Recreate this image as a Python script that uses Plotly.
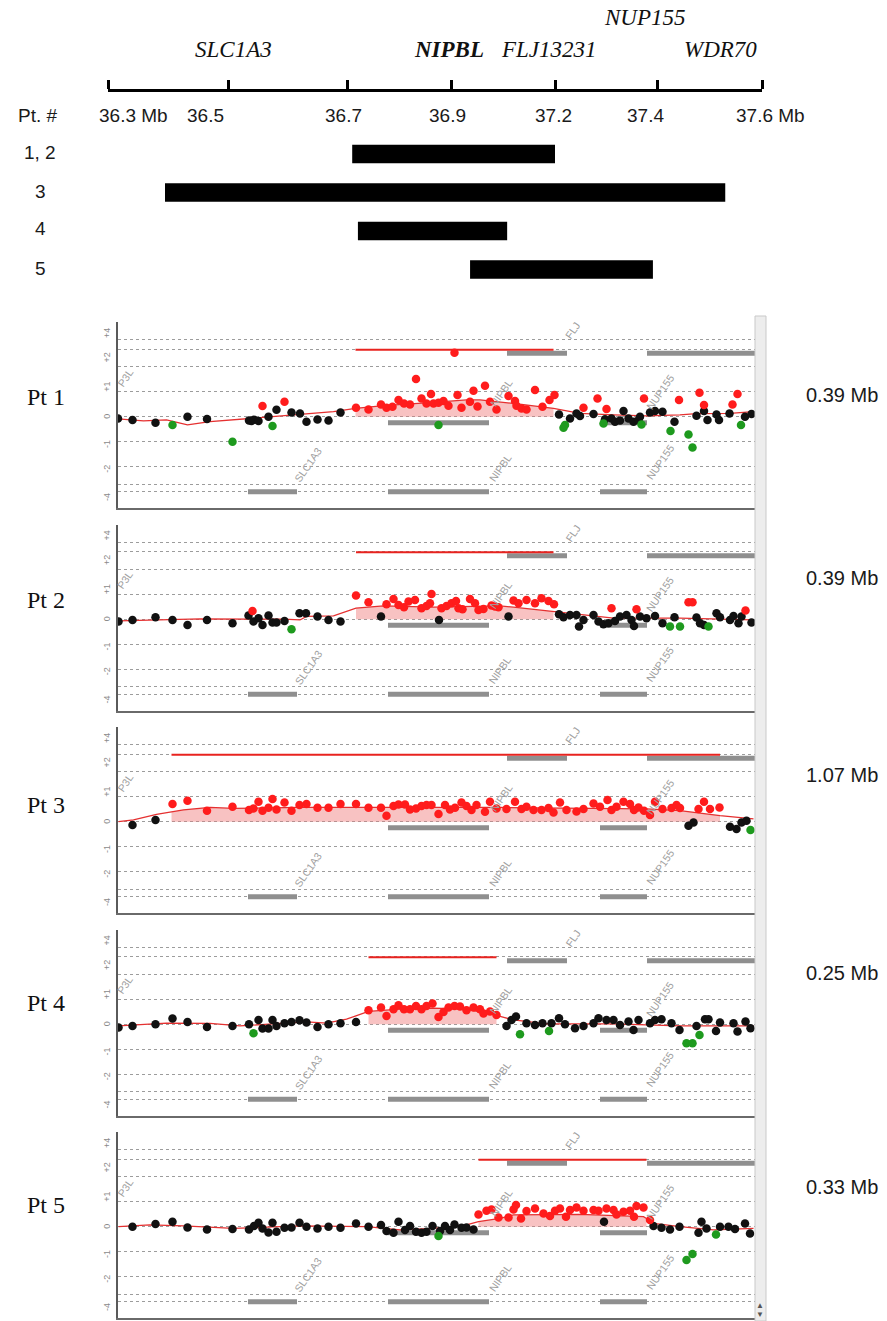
import numpy as np
import plotly.graph_objects as go

W, H = 887, 1321

# ---------------- schematic (top) data ----------------
RULER_MB = [36.3, 36.5, 36.7, 36.9, 37.2, 37.4, 37.6]
RULER_LABELS = ["36.3 Mb", "36.5", "36.7", "36.9", "37.2", "37.4", "37.6 Mb"]
DEL_ROWS = ["1, 2", "3", "4", "5"]
DEL_START_MB = [36.710, 36.395, 36.721, 36.955]
DEL_END_MB = [37.200, 37.530, 37.062, 37.392]
TOP_GENES = ["SLC1A3", "NIPBL", "FLJ13231", "NUP155", "WDR70"]

# ---------------- array CGH panels ----------------
PANEL_NAMES = ["Pt 1", "Pt 2", "Pt 3", "Pt 4", "Pt 5"]
PANEL_SIZES = ["0.39 Mb", "0.39 Mb", "1.07 Mb", "0.25 Mb", "0.33 Mb"]
Y_TICK_TEXT = ["+4", "+2", "+1", "0", "-1", "-2", "-4"]

# genes shown in the panel gene tracks (kb)
GENE_NAMES = ["SLC1A3", "NIPBL", "NUP155", "NIPBL", "NUP155", "FLJ13231", "WDR70"]
GENE_START_KB = [36560, 36840, 37264, 36840, 37264, 37078, 37358]
GENE_END_KB = [36658, 37042, 37358, 37042, 37358, 37198, 37574]

# Pt 1
P1_BLACK_KB = [36300, 36329, 36375, 36439, 36478, 36562, 36567, 36572, 36581, 36601, 36617, 36647, 36664, 36677,
               36699, 36721, 36745, 37182, 37204, 37217, 37224, 37251, 37274, 37287, 37294, 37304, 37311, 37321,
               37331, 37341, 37344, 37364, 37374, 37389, 37413, 37457, 37472, 37479, 37497, 37502, 37523, 37554, 37567]
P1_BLACK_Y = [-0.07, -0.13, -0.24, 0.0, -0.09, -0.15, -0.17, -0.12, -0.17, 0.0, 0.28, 0.17, 0.13, -0.2,
              -0.11, -0.15, 0.17, 0.09, -0.07, 0.13, 0.03, 0.11, -0.1, -0.07, -0.2, -0.15, 0.23, -0.07,
              -0.2, -0.13, 0.0, 0.17, 0.23, 0.2, -0.2, 0.04, 0.23, -0.13, 0.09, -0.13, 0.13, 0.0, 0.11]
P1_RED_KB = [36589, 36633, 36776, 36801, 36826, 36837, 36849, 36861, 36872, 36884, 36896, 36907, 36917, 36926,
             36931, 36941, 36951, 36961, 36973, 36979, 36987, 37004, 37011, 37019, 37034, 37044, 37057, 37081,
             37094, 37097, 37107, 37117, 37134, 37149, 37163, 37173, 37231, 37259, 37277, 37352, 37422, 37463,
             37472, 37529, 37539]
P1_RED_Y = [0.43, 0.6, 0.36, 0.29, 0.49, 0.36, 0.4, 0.67, 0.53, 0.49, 1.51, 0.73, 0.53, 0.91,
            0.53, 0.56, 0.63, 0.44, 2.56, 0.87, 0.36, 0.6, 1.04, 0.41, 1.24, 0.6, 0.29, 0.83,
            0.63, 0.44, 0.33, 0.29, 1.07, 0.4, 0.67, 0.87, 0.36, 0.73, 0.31, 0.73, 0.67, 0.96,
            0.47, 0.49, 0.91]
P1_GREEN_KB = [36409, 36529, 36609, 36941, 37191, 37194, 37271, 37347, 37405, 37441, 37449, 37546]
P1_GREEN_Y = [-0.33, -1.0, -0.37, -0.33, -0.44, -0.33, -0.27, -0.31, -0.57, -0.71, -1.23, -0.33]
P1_SMOOTH_KB = [36300, 36351, 36397, 36439, 36484, 36564, 36637, 36731, 36775, 36831, 36931, 36997, 37024, 37091,
                37171, 37224, 37291, 37357, 37424, 37457, 37524, 37571]
P1_SMOOTH_Y = [-0.09, -0.17, -0.13, -0.33, -0.2, -0.07, 0.07, 0.2, 0.33, 0.44, 0.57, 0.67, 0.67, 0.53,
               0.33, 0.13, 0.07, 0.03, 0.07, 0.12, 0.13, 0.2]
P1_ABERRATION_KB = [36775, 37171]

# Pt 2
P2_BLACK_KB = [36301, 36329, 36375, 36409, 36439, 36478, 36529, 36561, 36571, 36581, 36589, 36601, 36609, 36617,
               36633, 36663, 36676, 36699, 36721, 36745, 36826, 36942, 37081, 37182, 37191, 37204, 37217, 37222,
               37231, 37251, 37261, 37271, 37281, 37294, 37304, 37317, 37327, 37332, 37344, 37357, 37374, 37389,
               37413, 37457, 37464, 37472, 37497, 37504, 37524, 37531, 37541, 37547, 37567]
P2_BLACK_Y = [-0.09, -0.03, 0.08, -0.03, -0.23, -0.03, -0.16, 0.15, -0.09, 0.04, -0.23, 0.15, -0.13, -0.13,
              -0.07, 0.24, 0.24, 0.11, -0.03, -0.09, 0.11, -0.03, 0.11, 0.2, 0.08, 0.17, 0.17, -0.29,
              -0.03, 0.17, -0.09, -0.2, -0.16, -0.07, 0.11, 0.17, -0.03, -0.27, 0.11, 0.04, 0.13, -0.16,
              0.08, 0.07, -0.16, -0.23, 0.24, 0.08, -0.03, 0.13, -0.16, 0.11, -0.13]
P2_RED_KB = [36569, 36776, 36801, 36837, 36851, 36861, 36872, 36881, 36894, 36907, 36917, 36924, 36927, 36947,
             36957, 36967, 36976, 36981, 36989, 37004, 37014, 37021, 37031, 37047, 37054, 37061, 37091, 37101,
             37117, 37134, 37147, 37161, 37172, 37287, 37337, 37441, 37449, 37555]
P2_RED_Y = [0.33, 0.95, 0.68, 0.6, 0.81, 0.57, 0.48, 0.71, 0.77, 0.44, 0.53, 0.64, 1.01, 0.44,
            0.53, 0.64, 0.73, 0.44, 0.4, 0.81, 0.64, 0.37, 0.41, 0.55, 0.51, 0.48, 0.75, 0.64,
            0.77, 0.64, 0.84, 0.73, 0.6, 0.44, 0.4, 0.68, 0.68, 0.35]
P2_GREEN_KB = [36647, 37404, 37424, 37481]
P2_GREEN_Y = [-0.4, -0.29, -0.29, -0.29]
P2_SMOOTH_KB = [36301, 36464, 36631, 36664, 36677, 36731, 36776, 36831, 36931, 37064, 37091, 37171, 37224, 37291,
                37424, 37571]
P2_SMOOTH_Y = [-0.07, 0.01, 0.0, -0.03, 0.11, 0.13, 0.44, 0.53, 0.48, 0.53, 0.48, 0.31, 0.17, 0.04,
               0.04, -0.03]
P2_ABERRATION_KB = [36776, 37171]

# Pt 3
P3_BLACK_KB = [36329, 36375, 37441, 37451, 37524, 37537, 37547, 37557]
P3_BLACK_Y = [-0.13, 0.07, -0.16, -0.03, -0.2, -0.29, -0.03, 0.04]
P3_RED_KB = [36409, 36439, 36478, 36529, 36562, 36571, 36581, 36589, 36601, 36609, 36617, 36633, 36647, 36663,
             36677, 36699, 36721, 36745, 36776, 36801, 36826, 36837, 36851, 36861, 36874, 36884, 36896, 36907,
             36917, 36927, 36941, 36954, 36964, 36974, 36987, 36997, 37007, 37017, 37034, 37044, 37057, 37077,
             37094, 37107, 37117, 37131, 37147, 37161, 37171, 37184, 37197, 37217, 37231, 37251, 37264, 37279,
             37287, 37297, 37311, 37324, 37332, 37341, 37352, 37364, 37374, 37389, 37407, 37417, 37424, 37461,
             37472, 37484, 37503]
P3_RED_Y = [0.71, 0.84, 0.44, 0.6, 0.47, 0.53, 0.8, 0.44, 0.56, 0.91, 0.49, 0.77, 0.44, 0.67,
            0.71, 0.56, 0.56, 0.71, 0.71, 0.56, 0.56, 0.24, 0.63, 0.69, 0.69, 0.49, 0.53, 0.63,
            0.67, 0.67, 0.31, 0.67, 0.49, 0.56, 0.77, 0.63, 0.47, 0.67, 0.4, 0.8, 0.53, 0.51,
            0.8, 0.51, 0.6, 0.47, 0.47, 0.55, 0.37, 0.77, 0.47, 0.41, 0.51, 0.73, 0.6, 0.87,
            0.47, 0.6, 0.8, 0.71, 0.47, 0.57, 0.44, 0.27, 0.8, 0.51, 0.55, 0.67, 0.55, 0.51,
            0.8, 0.51, 0.57]
P3_GREEN_KB = [37565]
P3_GREEN_Y = [-0.33]
P3_SMOOTH_KB = [36301, 36331, 36377, 36407, 36431, 36484, 36531, 36664, 36797, 37064, 37357, 37424, 37504, 37571]
P3_SMOOTH_Y = [0.0, 0.07, 0.29, 0.4, 0.47, 0.57, 0.53, 0.57, 0.57, 0.57, 0.51, 0.44, 0.24, 0.11]
P3_ABERRATION_KB = [36407, 37504]

# Pt 4
P4_BLACK_KB = [36301, 36329, 36375, 36409, 36439, 36478, 36529, 36562, 36581, 36589, 36601, 36609, 36617, 36633,
               36647, 36663, 36677, 36699, 36721, 36745, 36776, 37077, 37087, 37096, 37117, 37134, 37149, 37167,
               37182, 37194, 37214, 37231, 37251, 37261, 37277, 37291, 37304, 37321, 37331, 37341, 37364, 37374,
               37387, 37407, 37423, 37457, 37474, 37481, 37496, 37504, 37531, 37539, 37555, 37565]
P4_BLACK_Y = [-0.13, -0.07, 0.0, 0.23, 0.09, -0.11, -0.07, 0.0, 0.17, -0.17, -0.17, 0.17, -0.07, 0.04,
              0.09, 0.16, 0.07, -0.11, 0.0, 0.04, 0.09, -0.07, 0.17, 0.31, 0.04, -0.03, 0.04, 0.04,
              0.24, 0.0, -0.16, -0.07, 0.04, 0.24, 0.17, 0.17, -0.03, 0.11, -0.23, 0.17, 0.04, 0.17,
              0.2, 0.04, -0.23, -0.07, 0.2, 0.2, -0.27, 0.07, 0.04, -0.29, 0.11, -0.16]
P4_RED_KB = [36801, 36826, 36837, 36851, 36861, 36872, 36884, 36896, 36907, 36917, 36929, 36941, 36951, 36961,
             36973, 36984, 36997, 37011, 37024, 37031, 37044, 37057]
P4_RED_Y = [0.56, 0.67, 0.33, 0.6, 0.76, 0.6, 0.6, 0.73, 0.6, 0.73, 0.83, 0.29, 0.49, 0.67,
            0.73, 0.71, 0.56, 0.67, 0.6, 0.43, 0.51, 0.37]
P4_GREEN_KB = [36571, 37104, 37162, 37437, 37449, 37463]
P4_GREEN_Y = [-0.36, -0.4, -0.27, -0.76, -0.76, -0.43]
P4_SMOOTH_KB = [36301, 36397, 36484, 36544, 36631, 36677, 36717, 36757, 36801, 36864, 36931, 36997, 37057, 37091,
                37157, 37291, 37424, 37571]
P4_SMOOTH_Y = [-0.07, 0.04, 0.03, -0.07, 0.04, 0.09, 0.04, 0.2, 0.51, 0.6, 0.64, 0.6, 0.35, 0.17,
               0.01, 0.01, -0.07, -0.07]
P4_ABERRATION_KB = [36801, 37057]

# Pt 5
P5_BLACK_KB = [36329, 36375, 36409, 36439, 36478, 36529, 36562, 36572, 36581, 36589, 36601, 36609, 36617, 36633,
               36647, 36663, 36677, 36699, 36721, 36745, 36776, 36801, 36826, 36837, 36851, 36861, 36874, 36884,
               36896, 36907, 36917, 36929, 36944, 36954, 36964, 36973, 36987, 36997, 37011, 37272, 37371, 37387,
               37404, 37423, 37461, 37467, 37477, 37504, 37521, 37534, 37554, 37564]
P5_BLACK_Y = [0.0, 0.11, 0.2, -0.03, -0.11, -0.09, -0.11, 0.03, 0.16, -0.07, -0.23, 0.16, -0.2, -0.04,
              -0.03, 0.16, 0.0, -0.07, 0.0, -0.04, 0.13, 0.0, 0.07, -0.17, -0.24, 0.2, -0.13, 0.03,
              -0.2, -0.24, -0.2, 0.03, -0.17, 0.03, -0.13, 0.09, -0.04, -0.03, -0.11, 0.2, 0.03, -0.04,
              -0.11, 0.0, -0.24, 0.2, -0.07, 0.0, 0.0, -0.09, 0.13, -0.27]
P5_RED_KB = [37021, 37037, 37047, 37061, 37081, 37091, 37096, 37106, 37117, 37134, 37151, 37164, 37174, 37184,
             37196, 37204, 37217, 37231, 37251, 37261, 37277, 37291, 37297, 37311, 37324, 37332, 37337, 37351, 37364]
P5_RED_Y = [0.49, 0.64, 0.69, 0.37, 0.37, 0.69, 0.87, 0.33, 0.63, 0.73, 0.53, 0.43, 0.64, 0.73,
            0.4, 0.67, 0.77, 0.64, 0.67, 0.64, 0.73, 0.67, 0.49, 0.6, 0.64, 0.4, 0.83, 0.77, 0.27]
P5_GREEN_KB = [36941, 37437, 37449, 37496]
P5_GREEN_Y = [-0.37, -1.33, -1.09, -0.31]
P5_SMOOTH_KB = [36301, 36364, 36431, 36531, 36664, 36797, 36864, 36931, 36997, 37021, 37064, 37091, 37224, 37351,
                37357, 37371, 37424, 37491, 37571]
P5_SMOOTH_Y = [0.0, 0.07, 0.03, -0.07, 0.03, 0.0, -0.13, -0.07, 0.07, 0.2, 0.33, 0.47, 0.49, 0.4,
               0.33, 0.13, 0.0, -0.13, -0.07]
P5_ABERRATION_KB = [37021, 37357]

PANELS = [
    (P1_BLACK_KB, P1_BLACK_Y, P1_RED_KB, P1_RED_Y, P1_GREEN_KB, P1_GREEN_Y, P1_SMOOTH_KB, P1_SMOOTH_Y, P1_ABERRATION_KB),
    (P2_BLACK_KB, P2_BLACK_Y, P2_RED_KB, P2_RED_Y, P2_GREEN_KB, P2_GREEN_Y, P2_SMOOTH_KB, P2_SMOOTH_Y, P2_ABERRATION_KB),
    (P3_BLACK_KB, P3_BLACK_Y, P3_RED_KB, P3_RED_Y, P3_GREEN_KB, P3_GREEN_Y, P3_SMOOTH_KB, P3_SMOOTH_Y, P3_ABERRATION_KB),
    (P4_BLACK_KB, P4_BLACK_Y, P4_RED_KB, P4_RED_Y, P4_GREEN_KB, P4_GREEN_Y, P4_SMOOTH_KB, P4_SMOOTH_Y, P4_ABERRATION_KB),
    (P5_BLACK_KB, P5_BLACK_Y, P5_RED_KB, P5_RED_Y, P5_GREEN_KB, P5_GREEN_Y, P5_SMOOTH_KB, P5_SMOOTH_Y, P5_ABERRATION_KB),
]

# ---------------- layout constants (pixels / styles) ----------------
RULER_POS = [108, 228, 347, 451, 555, 657, 762]
RULER_LABEL_PX = [133, 205, 343, 447, 553, 645, 770]
TOP_GENE_PX = [(233, 50), (449, 50), (549, 50), (645, 18), (720, 50)]
ROW_LABEL_PY = [153, 192, 229, 268]
PANEL_LEFT, PANEL_RIGHT = 118, 755
PANEL_TOP0, PANEL_BOTTOM0, PANEL_STEP = 322, 508, 202.5
Y_RANGE = [-3.652, 3.788]
Y_GRID = [-3.0, -2.7, -2.0, -1.0, 0.0, 1.0, 2.0, 2.7, 3.07]
Y_TICK_POS = [3.35, 2.37, 1.2, 0.0, -1.09, -2.08, -3.21]
GENE_TRACK_Y = [-3.0, -3.0, -3.0, -0.24, -0.24, 2.54, 2.54]
SEG_Y = 2.68
PANEL_LABEL_PY = [397, 600, 805, 1003, 1205]
SIZE_LABEL_PY = [395, 578, 775, 973, 1187]
# in-panel gene name labels: (text, kb position, y)
PANEL_GENE_LABELS = [("P3L", 36314, 1.55), ("SLC1A3", 36680, -1.95), ("NIPBL", 37064, -2.05),
                     ("NUP155", 37384, -1.8), ("NIPBL", 37066, 0.95), ("NUP155", 37384, 1.0),
                     ("FLJ", 37210, 3.45)]

SANS = "Liberation Sans, Arial, sans-serif"
SERIF = "Liberation Serif, Times New Roman, serif"


def px_x(p):
    return p / W


def px_y(p):
    return 1 - p / H


fig = go.Figure()
layout = dict(width=W, height=H, margin=dict(l=0, r=0, t=0, b=0), paper_bgcolor="white",
              plot_bgcolor="white", showlegend=False)
annotations = []
shapes = []

# ---------------- schematic ----------------
starts = np.interp(DEL_START_MB, RULER_MB, RULER_POS)
ends = np.interp(DEL_END_MB, RULER_MB, RULER_POS)
fig.add_trace(go.Bar(y=DEL_ROWS, x=ends - starts, base=starts, orientation="h", width=0.48,
                     marker=dict(color="black", line=dict(width=0)), xaxis="x6", yaxis="y6",
                     hoverinfo="skip"))
layout["xaxis6"] = dict(domain=[px_x(RULER_POS[0]), px_x(RULER_POS[-1])], range=[RULER_POS[0], RULER_POS[-1]],
                        anchor="y6", side="top", showline=True, linecolor="black", linewidth=3,
                        ticks="outside", ticklen=9, tickwidth=3, tickcolor="black", tickvals=RULER_POS,
                        showticklabels=False, showgrid=False, zeroline=False)
layout["yaxis6"] = dict(domain=[px_y(288.7), px_y(92)], type="category", categoryorder="array",
                        categoryarray=DEL_ROWS, range=[3.5, -1.61], visible=False, anchor="x6")

for lab, xp in zip(RULER_LABELS, RULER_LABEL_PX):
    annotations.append(dict(text=lab, x=px_x(xp), y=px_y(115), xref="paper", yref="paper", showarrow=False,
                            font=dict(family=SANS, size=19, color="#1a1a1a"), xanchor="center", yanchor="middle"))
annotations.append(dict(text="Pt. #", x=px_x(38), y=px_y(115), xref="paper", yref="paper", showarrow=False,
                        font=dict(family=SANS, size=19, color="#1a1a1a"), xanchor="center", yanchor="middle"))
for lab, yp in zip(DEL_ROWS, ROW_LABEL_PY):
    annotations.append(dict(text=lab, x=px_x(40), y=px_y(yp), xref="paper", yref="paper", showarrow=False,
                            font=dict(family=SANS, size=19, color="#1a1a1a"), xanchor="center", yanchor="middle"))
for g, (xp, yp) in zip(TOP_GENES, TOP_GENE_PX):
    txt = "<b><i>%s</i></b>" % g if g == "NIPBL" else "<i>%s</i>" % g
    annotations.append(dict(text=txt, x=px_x(xp), y=px_y(yp), xref="paper", yref="paper", showarrow=False,
                            font=dict(family=SERIF, size=23, color="#111"), xanchor="center", yanchor="middle"))

# ---------------- panels ----------------
x_range = [36.300, 37.574]
for i, (bk, by, rk, ry, gk, gy, sk, sy, ab) in enumerate(PANELS):
    n = i + 1
    xa = "x" if n == 1 else "x%d" % n
    ya = "y" if n == 1 else "y%d" % n
    top = PANEL_TOP0 + PANEL_STEP * i
    bot = PANEL_BOTTOM0 + PANEL_STEP * i
    layout["xaxis" if n == 1 else "xaxis%d" % n] = dict(
        domain=[px_x(PANEL_LEFT), px_x(PANEL_RIGHT)], range=x_range, anchor=ya, showline=True,
        linecolor="#6a6a6a", linewidth=2, showgrid=False, zeroline=False, showticklabels=False, ticks="")
    layout["yaxis" if n == 1 else "yaxis%d" % n] = dict(
        domain=[px_y(bot), px_y(top)], range=Y_RANGE, anchor=xa, showline=True, linecolor="#5a5a5a",
        linewidth=2, showgrid=True, gridcolor="#9c9c9c", griddash="dot", gridwidth=1, tickvals=Y_GRID,
        showticklabels=False, ticks="", zeroline=False)

    # gene tracks
    for row_y in sorted(set(GENE_TRACK_Y)):
        xs, ys = [], []
        for s, e, ty in zip(GENE_START_KB, GENE_END_KB, GENE_TRACK_Y):
            if ty == row_y:
                xs += [s / 1000, e / 1000, None]
                ys += [ty, ty, None]
        fig.add_trace(go.Scatter(x=xs, y=ys, mode="lines", line=dict(color="#8f8f8f", width=5),
                                 xaxis=xa, yaxis=ya, hoverinfo="skip"))

    sk_a = np.array(sk) / 1000.0
    sy_a = np.array(sy)
    mask = (np.array(sk) >= ab[0]) & (np.array(sk) <= ab[1])
    fig.add_trace(go.Scatter(x=sk_a[mask], y=sy_a[mask], mode="lines", fill="tozeroy",
                             fillcolor="rgba(240,120,120,0.45)", line=dict(width=0, color="rgba(0,0,0,0)"),
                             xaxis=xa, yaxis=ya, hoverinfo="skip"))
    fig.add_trace(go.Scatter(x=sk_a, y=sy_a, mode="lines", line=dict(color="#e53030", width=1.3),
                             xaxis=xa, yaxis=ya, hoverinfo="skip"))
    fig.add_trace(go.Scatter(x=[ab[0] / 1000, ab[1] / 1000], y=[SEG_Y, SEG_Y], mode="lines",
                             line=dict(color="#e8231f", width=2), xaxis=xa, yaxis=ya, hoverinfo="skip"))
    for kx, vy, col in ((bk, by, "#111111"), (gk, gy, "#1e9a1e"), (rk, ry, "#ff1c1c")):
        fig.add_trace(go.Scatter(x=np.array(kx) / 1000.0, y=vy, mode="markers",
                                 marker=dict(color=col, size=8.5, symbol="circle", line=dict(width=0)),
                                 xaxis=xa, yaxis=ya, hoverinfo="skip"))

    for t, yv in zip(Y_TICK_TEXT, Y_TICK_POS):
        annotations.append(dict(text=t, x=px_x(107), y=yv, xref="paper", yref=ya, showarrow=False,
                                textangle=-90, font=dict(family=SANS, size=9, color="#8a8a8a"),
                                xanchor="center", yanchor="middle"))
    for t, kb, yv in PANEL_GENE_LABELS:
        annotations.append(dict(text=t, x=kb / 1000, y=yv, xref=xa, yref=ya, showarrow=False,
                                textangle=-55, font=dict(family=SANS, size=10.5, color="#a0a0a0"),
                                xanchor="center", yanchor="middle"))

    annotations.append(dict(text=PANEL_NAMES[i], x=px_x(46), y=px_y(PANEL_LABEL_PY[i]), xref="paper",
                            yref="paper", showarrow=False, font=dict(family=SERIF, size=24, color="#111"),
                            xanchor="center", yanchor="middle"))
    annotations.append(dict(text=PANEL_SIZES[i], x=px_x(842), y=px_y(SIZE_LABEL_PY[i]), xref="paper",
                            yref="paper", showarrow=False, font=dict(family=SANS, size=20, color="#1a1a1a"),
                            xanchor="center", yanchor="middle"))

# scroll bar at the right of the panels
shapes.append(dict(type="rect", xref="paper", yref="paper", x0=px_x(755), x1=px_x(766), y0=px_y(1321),
                   y1=px_y(316), fillcolor="#ededed", line=dict(color="#c9c9c9", width=1), layer="above"))
annotations.append(dict(text="▲", x=px_x(760), y=px_y(1304), xref="paper", yref="paper", showarrow=False,
                        font=dict(size=8, color="#555"), xanchor="center", yanchor="middle"))
annotations.append(dict(text="▼", x=px_x(760), y=px_y(1313), xref="paper", yref="paper", showarrow=False,
                        font=dict(size=8, color="#555"), xanchor="center", yanchor="middle"))

layout["annotations"] = annotations
layout["shapes"] = shapes
fig.update_layout(**layout)
fig.write_html("out.html", config={"displayModeBar": False},
               post_script="document.body.style.margin='0px';document.body.style.overflow='hidden';")
